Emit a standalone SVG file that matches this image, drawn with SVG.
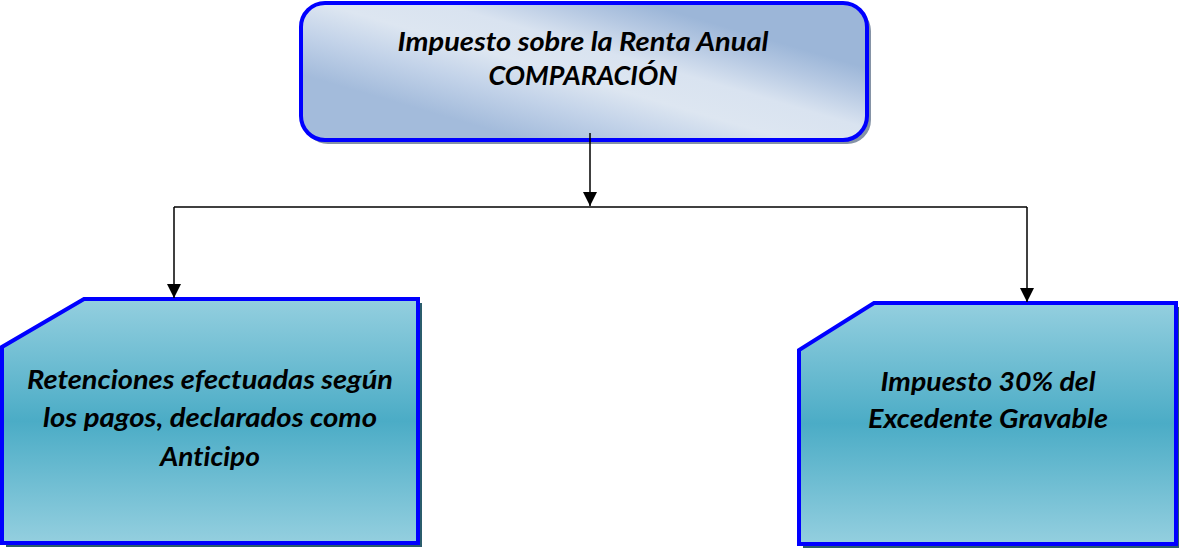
<svg xmlns="http://www.w3.org/2000/svg" width="1179" height="552" viewBox="0 0 1179 552">
<style>
.lbl{font-family:Lato,"Open Sans","Liberation Sans",sans-serif;font-weight:bold;font-style:italic;font-size:26px;fill:#000;text-anchor:middle;font-variant-ligatures:none}
.edge{stroke:#000;stroke-width:1.5;fill:none}
.nodeStroke{stroke:#0000ff;stroke-width:4;stroke-linejoin:miter}
</style>
<defs>
<linearGradient id="gTop" gradientUnits="userSpaceOnUse" x1="560" y1="150" x2="606" y2="-8">
<stop offset="0" stop-color="#a3bbdb"/>
<stop offset="0.25" stop-color="#c3d3e9"/>
<stop offset="0.45" stop-color="#dde6f1"/>
<stop offset="0.65" stop-color="#d9e3f0"/>
<stop offset="0.85" stop-color="#b5c8e2"/>
<stop offset="1" stop-color="#9cb6d8"/>
</linearGradient>
<linearGradient id="gBox" x1="0" y1="0" x2="0" y2="1">
<stop offset="0" stop-color="#94cfdf"/>
<stop offset="0.5" stop-color="#4bacc6"/>
<stop offset="1" stop-color="#94cfdf"/>
</linearGradient>
<marker id="arr" markerUnits="userSpaceOnUse" markerWidth="14" markerHeight="16" refX="14" refY="7" orient="auto">
<path d="M0,0 L14,7 L0,14 Z" fill="#000"/>
</marker>
</defs>

<g id="node-top">
<rect x="304" y="7" width="567" height="137" rx="24" ry="24" fill="#8593a6"/>
<rect x="301" y="3" width="566" height="137" rx="24" ry="24" fill="url(#gTop)" class="nodeStroke"/>
<text class="lbl" x="583" y="51" textLength="371" lengthAdjust="spacingAndGlyphs">Impuesto sobre la Renta Anual</text>
<text class="lbl" x="583" y="85" textLength="189" lengthAdjust="spacingAndGlyphs">COMPARACIÓN</text>
</g>

<g id="node-left">
<polygon points="89,303 422,303 422,547 6,547 6,351" fill="#2b5d6c"/>
<polygon points="84,299 418,299 418,543 2,543 2,347" fill="url(#gBox)" class="nodeStroke"/>
<text class="lbl" x="210" y="389" textLength="366" lengthAdjust="spacingAndGlyphs">Retenciones efectuadas según</text>
<text class="lbl" x="210" y="427" textLength="334" lengthAdjust="spacingAndGlyphs">los pagos, declarados como</text>
<text class="lbl" x="210" y="466" textLength="100" lengthAdjust="spacingAndGlyphs">Anticipo</text>
</g>

<g id="node-right">
<polygon points="878,307 1180,307 1180,548 803,548 803,354" fill="#2b5d6c"/>
<polygon points="874,303 1176,303 1176,544 799,544 799,350" fill="url(#gBox)" class="nodeStroke"/>
<text class="lbl" x="988" y="391" textLength="215" lengthAdjust="spacingAndGlyphs">Impuesto 30% del</text>
<text class="lbl" x="988" y="428" textLength="240" lengthAdjust="spacingAndGlyphs">Excedente Gravable</text>
</g>

<g id="connectors">
<line class="edge" x1="590" y1="133" x2="590" y2="206" marker-end="url(#arr)"/>
<line class="edge" x1="174" y1="207" x2="1027" y2="207"/>
<line class="edge" x1="174" y1="207" x2="174" y2="298" marker-end="url(#arr)"/>
<line class="edge" x1="1027" y1="207" x2="1027" y2="302" marker-end="url(#arr)"/>
</g>
</svg>
